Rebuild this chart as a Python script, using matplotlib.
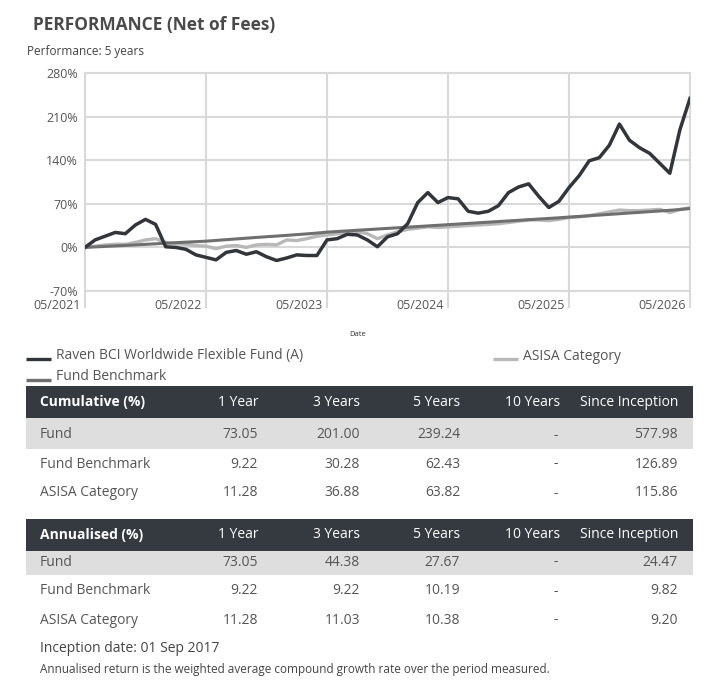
import numpy as np
import matplotlib
matplotlib.use("Agg")
import matplotlib.pyplot as plt
from matplotlib.transforms import ScaledTranslation

plt.rcParams['font.family'] = ['Open Sans', 'DejaVu Sans']

# monthly cumulative performance (%), 05/2021 .. 05/2026
fund = [0, 12, 18, 24, 22, 36, 45, 37, 1, 0,
        -3, -12, -16, -20, -8, -5, -11, -7, -15, -21,
        -17, -12, -13, -13, 12, 14, 21, 20, 12, 1,
        17, 22, 38, 72, 88, 72, 80, 78, 58, 55,
        58, 67, 88, 97, 102, 82, 64, 74, 96, 115,
        139, 144, 164, 198, 172, 160, 151, 135, 119, 189,
        239.24]
benchmark = [0, 0.8, 1.6, 2.4, 3.2, 4.0, 4.9, 5.8, 6.7, 7.6,
             8.4, 9.2, 10.0, 11.2, 12.4, 13.6, 14.8, 16.0, 17.1, 18.2,
             19.3, 20.5, 21.7, 23.0, 24.5, 25.5, 26.5, 27.5, 28.5, 29.5,
             30.5, 31.5, 32.5, 33.5, 34.5, 35.5, 36.5, 37.5, 38.5, 39.5,
             40.5, 41.5, 42.5, 43.5, 44.5, 45.5, 46.5, 47.5, 48.7, 49.7,
             50.8, 51.9, 53.0, 54.1, 55.2, 56.3, 57.4, 58.5, 59.6, 60.8,
             62.43]
asisa = [0, 2, 4, 5, 5, 8, 12, 14, 8, 6,
         5, 3, 2, -2, 2, 3, 0, 4, 5, 4,
         12, 11, 14, 18, 20, 22, 24, 25, 22, 14,
         20, 25, 29, 31, 33, 32, 33, 34, 35, 36,
         37, 38, 40, 42, 44, 44, 43, 45, 48, 49,
         51, 54, 57, 60, 59, 59, 60, 61, 56, 61,
         63.82]
months = np.arange(len(fund))
xtick_labels = ['05/2021', '05/2022', '05/2023', '05/2024', '05/2025', '05/2026']
yticks = [-70, 0, 70, 140, 210, 280]

series_names = ['Raven BCI Worldwide Flexible Fund (A)', 'Fund Benchmark', 'ASISA Category']
c_fund, c_bench, c_asisa = '#32363a', '#6f6f6f', '#b8b8b8'

columns = ['1 Year', '3 Years', '5 Years', '10 Years', 'Since Inception']
row_names = ['Fund', 'Fund Benchmark', 'ASISA Category']
cumulative = [['73.05', '201.00', '239.24', '-', '577.98'],
              ['9.22', '30.28', '62.43', '-', '126.89'],
              ['11.28', '36.88', '63.82', '-', '115.86']]
annualised = [['73.05', '44.38', '27.67', '-', '24.47'],
              ['9.22', '9.22', '10.19', '-', '9.82'],
              ['11.28', '11.03', '10.38', '-', '9.20']]

W, H = 709, 688
fig = plt.figure(figsize=(W / 100, H / 100), dpi=100)
fig.patch.set_facecolor('white')

# ---- chart
grid_c = '#d9d9d9'
ax = fig.add_axes([85 / W, 1 - 291 / H, 605 / W, 218 / H])
ax.plot(months, asisa, color=c_asisa, lw=2.4, zorder=3)
ax.plot(months, benchmark, color=c_bench, lw=2.2, zorder=4)
ax.plot(months, fund, color=c_fund, lw=2.5, zorder=5)
ax.set_xlim(0, 60)
ax.set_ylim(-70, 280)
ax.set_xticks(np.arange(0, 61, 12))
ax.set_xticklabels(xtick_labels, fontsize=9, color='#555555')
ax.set_yticks(yticks)
ax.set_yticklabels([f'{v}%' for v in yticks], fontsize=9, color='#555555')
ax.grid(True, color=grid_c, lw=1.5)
ax.set_axisbelow(True)
for s in ax.spines.values():
    s.set_color(grid_c)
    s.set_linewidth(1.5)
ax.tick_params(axis='x', length=12, width=1.5, color=grid_c, pad=-6.5)
ax.tick_params(axis='y', length=0, pad=5)
off = ScaledTranslation(-4 / 100, 0, fig.dpi_scale_trans)
for lab in ax.get_xticklabels():
    lab.set_ha('right')
    lab.set_transform(lab.get_transform() + off)

# ---- overlay in pixel coordinates
ov = fig.add_axes([0, 0, 1, 1])
ov.set_xlim(0, W)
ov.set_ylim(H, 0)
ov.axis('off')

ov.text(33, 25, 'PERFORMANCE (Net of Fees)', fontsize=12.5, fontweight='bold',
        color='#4a4a4a', va='center', ha='left')
ov.text(27, 51, 'Performance: 5 years', fontsize=8.5, color='#444444', va='center')
ov.text(358, 335, 'Date', fontsize=5.5, color='#333333', ha='center', va='center')

# legend
leg = [(26, 356, c_fund), (26, 377, c_bench), (493, 356, c_asisa)]
for name, (lx, ly, col) in zip(series_names, leg):
    ov.plot([lx, lx + 25], [ly + 2.5, ly + 2.5], color=col, lw=2.4, solid_capstyle='butt')
    ov.text(lx + 30, ly, name, fontsize=10, color='#555555', va='center')

col_right = [258, 360, 460, 560, 678]
txt_c = '#555555'


def draw_table(title, data, y_head, y_fund_end, row_ys):
    ov.add_patch(plt.Rectangle((26, y_head), 667, 32, color='#343a40', lw=0))
    ov.add_patch(plt.Rectangle((26, y_head + 32), 667, y_fund_end - y_head - 32,
                               color='#dedede', lw=0))
    hy = y_head + 16
    ov.text(40, hy, title, fontsize=10, fontweight='bold', color='white', va='center')
    for cx, c in zip(col_right, columns):
        ov.text(cx, hy, c, fontsize=10, color='white', va='center', ha='right')
    for ry, name, vals in zip(row_ys, row_names, data):
        ov.text(40, ry, name, fontsize=10, color=txt_c, va='center')
        for cx, v in zip(col_right, vals):
            ov.text(cx - (2 if v == '-' else 0), ry, v, fontsize=10, color=txt_c,
                    va='center', ha='right')


draw_table('Cumulative (%)', cumulative, 386, 449, [435, 464, 493])
draw_table('Annualised (%)', annualised, 519, 575, [562, 591, 620])

ov.text(40, 648, 'Inception date: 01 Sep 2017', fontsize=10, color='#444444', va='center')
ov.text(40, 669, 'Annualised return is the weighted average compound growth rate over the period measured.',
        fontsize=8.5, color='#444444', va='center')

fig.savefig('out.png', dpi=100)
